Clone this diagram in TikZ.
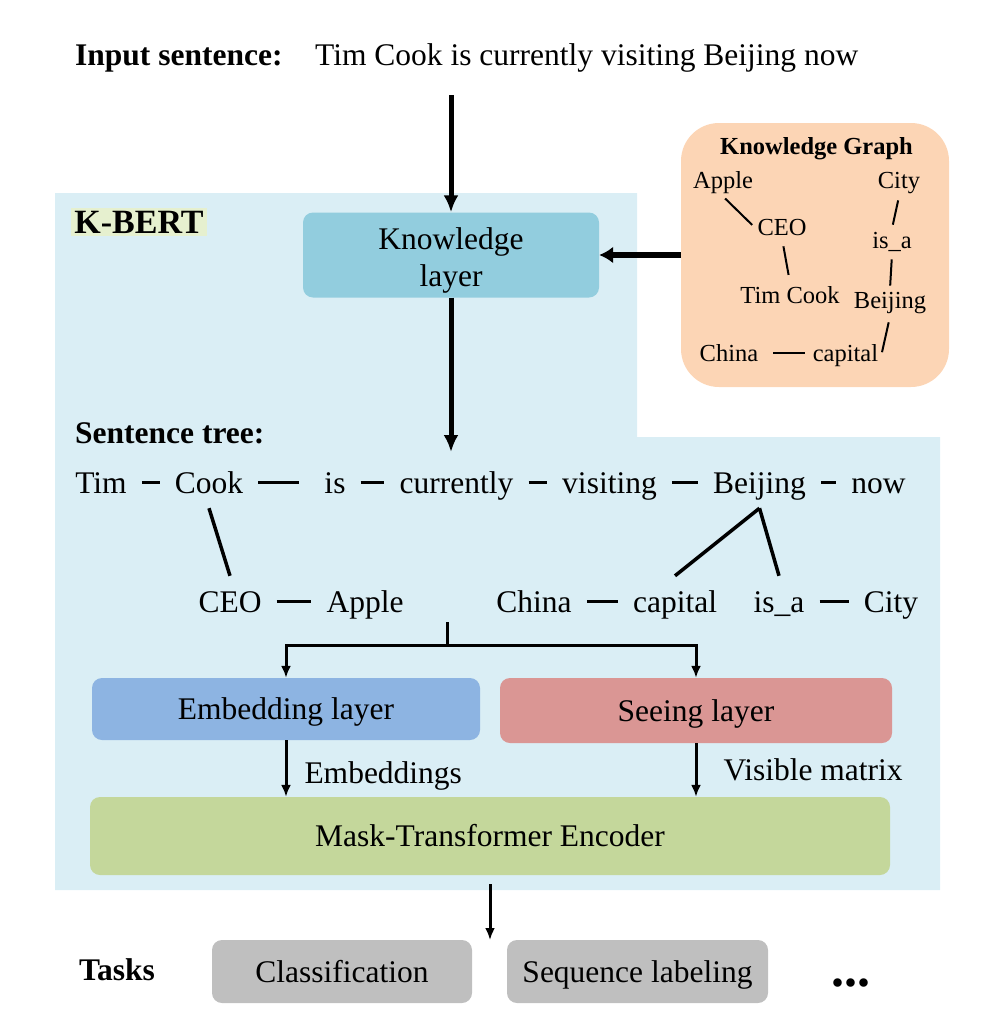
\documentclass[tikz,border=0pt]{standalone}
\usepackage{fontspec}
\setmainfont{Liberation Serif}
\usetikzlibrary{arrows.meta}

\definecolor{bgblue}{RGB}{218,238,245}
\definecolor{klblue}{RGB}{146,205,222}
\definecolor{kgpeach}{RGB}{252,213,181}
\definecolor{embblue}{RGB}{141,180,226}
\definecolor{seered}{RGB}{218,150,148}
\definecolor{maskgreen}{RGB}{196,215,155}
\definecolor{taskgrey}{RGB}{191,191,191}
\definecolor{tagyellow}{RGB}{230,240,207}

\tikzset{
  big/.style={font=\fontsize{31.5}{37}\selectfont},
  small/.style={font=\fontsize{24.5}{29}\selectfont},
  txt/.style={big, inner sep=0pt, anchor=base west},
  word/.style={big, inner sep=15pt, text height=21pt, text depth=0pt, anchor=base},
  kgitem/.style={small, inner sep=3pt, anchor=base},
  layerbox/.style={big, rounded corners=10pt, inner sep=0pt, text height=21pt, text depth=0pt},
  treeline/.style={line width=3.5pt},
  kgline/.style={line width=2pt},
  arrow/.style={-{Latex[length=12pt,width=10pt]}, line width=3pt},
  fat/.style={-{Latex[length=17pt,width=15pt]}, line width=5pt}
}

\begin{document}
\begin{tikzpicture}[x=1pt,y=-1pt]
\useasboundingbox (0,0) rectangle (994,1036);

% K-BERT area
\fill[bgblue] (55,193) -- (637,193) -- (637,437) -- (940,437) -- (940,890) -- (55,890) -- cycle;

% input
\node[txt] (inlabel) at (75,65) {\bfseries Input sentence:};
\node[txt] (input) at (315,65) {Tim Cook is currently visiting Beijing now};

\node[big, font=\fontsize{34}{40}\selectfont\bfseries, fill=tagyellow, inner sep=3pt] (kbert) at (139,222) {K-BERT};

\node[fill=klblue, rounded corners=10pt, minimum width=296pt, minimum height=85pt,
  label={[big, align=center, yshift=-5pt]center:Knowledge\\layer}] (kl) at (451,255) {};

% knowledge graph
\node[fill=kgpeach, rounded corners=38pt, minimum width=268pt, minimum height=264pt] (kg) at (815,255) {};
\node[kgitem, font=\fontsize{24.5}{29}\selectfont\bfseries] (kgtitle) at (816.5,154) {Knowledge Graph};
\node[kgitem] (apple) at (723,188) {Apple};
\node[kgitem] (city) at (899,188) {City};
\node[kgitem] (ceo) at (782,235) {CEO};
\node[kgitem] (isa) at (892,248) {is\_a};
\node[kgitem] (timcook) at (790,303) {Tim Cook};
\node[kgitem] (bjkg) at (890,308) {Beijing};
\node[kgitem] (china) at (729,361) {China};
\node[kgitem] (capkg) at (845.5,361) {capital};

\draw[kgline, shorten <=3pt, shorten >=3pt] (apple.south) -- (ceo.west);
\draw[kgline, shorten <=8pt, shorten >=8pt] (ceo.south) -- (timcook.north);
\draw[kgline, shorten <=4pt, shorten >=4pt] (city.south) -- (isa.north);
\draw[kgline, shorten <=5pt, shorten >=3pt] (isa.south) -- (bjkg.north);
\draw[kgline, shorten <=6pt, shorten >=3pt] (bjkg.south) -- (capkg.east);
\draw[kgline, shorten <=12pt, shorten >=5pt] (china.east) -- (china.east -| capkg.west);

% sentence tree
\node[txt] (treelabel) at (75,443) {\bfseries Sentence tree:};
\node[word] (tim) at (101,493) {Tim};
\node[word] (cook) at (209,493) {Cook};
\node[word] (is) at (335,493) {is};
\node[word] (cur) at (456.5,493) {currently};
\node[word] (vis) at (609.5,493) {visiting};
\node[word] (bj) at (759.5,493) {Beijing};
\node[word] (now) at (878.5,493) {now};
\node[word] (ceo2) at (230,612) {CEO};
\node[word] (apple2) at (365,612) {Apple};
\node[word] (china2) at (534,612) {China};
\node[word] (cap2) at (675,612) {capital};
\node[word] (isa2) at (779,612) {is\_a};
\node[word] (city2) at (891,612) {City};

\draw[treeline] (tim) -- (cook);
\draw[treeline, shorten >=10pt] (cook) -- (is);
\draw[treeline] (is) -- (cur);
\draw[treeline] (cur) -- (vis);
\draw[treeline] (vis) -- (bj);
\draw[treeline] (bj) -- (now);
\draw[treeline] (ceo2) -- (apple2);
\draw[treeline] (china2) -- (cap2);
\draw[treeline] (isa2) -- (city2);
\draw[treeline] (cook.south) -- (ceo2.north);
\draw[treeline] (bj.south) -- (cap2.north);
\draw[treeline] (bj.south) -- (isa2.north);

% layers
\node[layerbox, fill=embblue, minimum width=388pt, minimum height=62pt] (emb) at (286,709) {Embedding layer};
\node[layerbox, fill=seered, minimum width=392pt, minimum height=65pt] (see) at (696,710.5) {Seeing layer};
\node[layerbox, fill=maskgreen, minimum width=800pt, minimum height=78pt] (mask) at (490,836) {Mask-Transformer Encoder};

% tasks
\node[txt, anchor=base] (tasks) at (117,980) {\bfseries Tasks};
\node[layerbox, fill=taskgrey, minimum width=260pt, minimum height=63pt] (cls) at (342,971.5) {Classification};
\node[layerbox, fill=taskgrey, minimum width=261pt, minimum height=63pt] (seq) at (637.5,971.5) {Sequence labeling};
\node[txt, anchor=base, font=\fontsize{52}{60}\selectfont\bfseries] (dots) at (851,986) {...};

% arrows
\coordinate (intop) at (451,95);
\coordinate (treein) at (451,452);
\coordinate (split) at (447,622);
\coordinate (fork) at (447,645);
\coordinate (tasksin) at (490,940);

\draw[fat] (intop) -- (kl.north);
\draw[-{Latex[length=14pt,width=17pt]}, line width=6pt] (kg.west) -- (kl.east);
\draw[fat] (kl.south) -- (treein);
\draw[line width=3pt] (split) -- (fork);
\draw[arrow] (fork) -| (emb.north);
\draw[arrow] (fork) -| (see.north);
\draw[arrow] (emb.south) -- (emb.south |- mask.north) node[txt, pos=0.55, anchor=west, xshift=17pt, yshift=-5pt] {Embeddings};
\draw[arrow] (see.south) -- (see.south |- mask.north) node[txt, pos=0.5, anchor=west, xshift=26pt] {Visible matrix};
\draw[arrow, shorten <=9pt] (mask.south) -- (tasksin);

\end{tikzpicture}
\end{document}
